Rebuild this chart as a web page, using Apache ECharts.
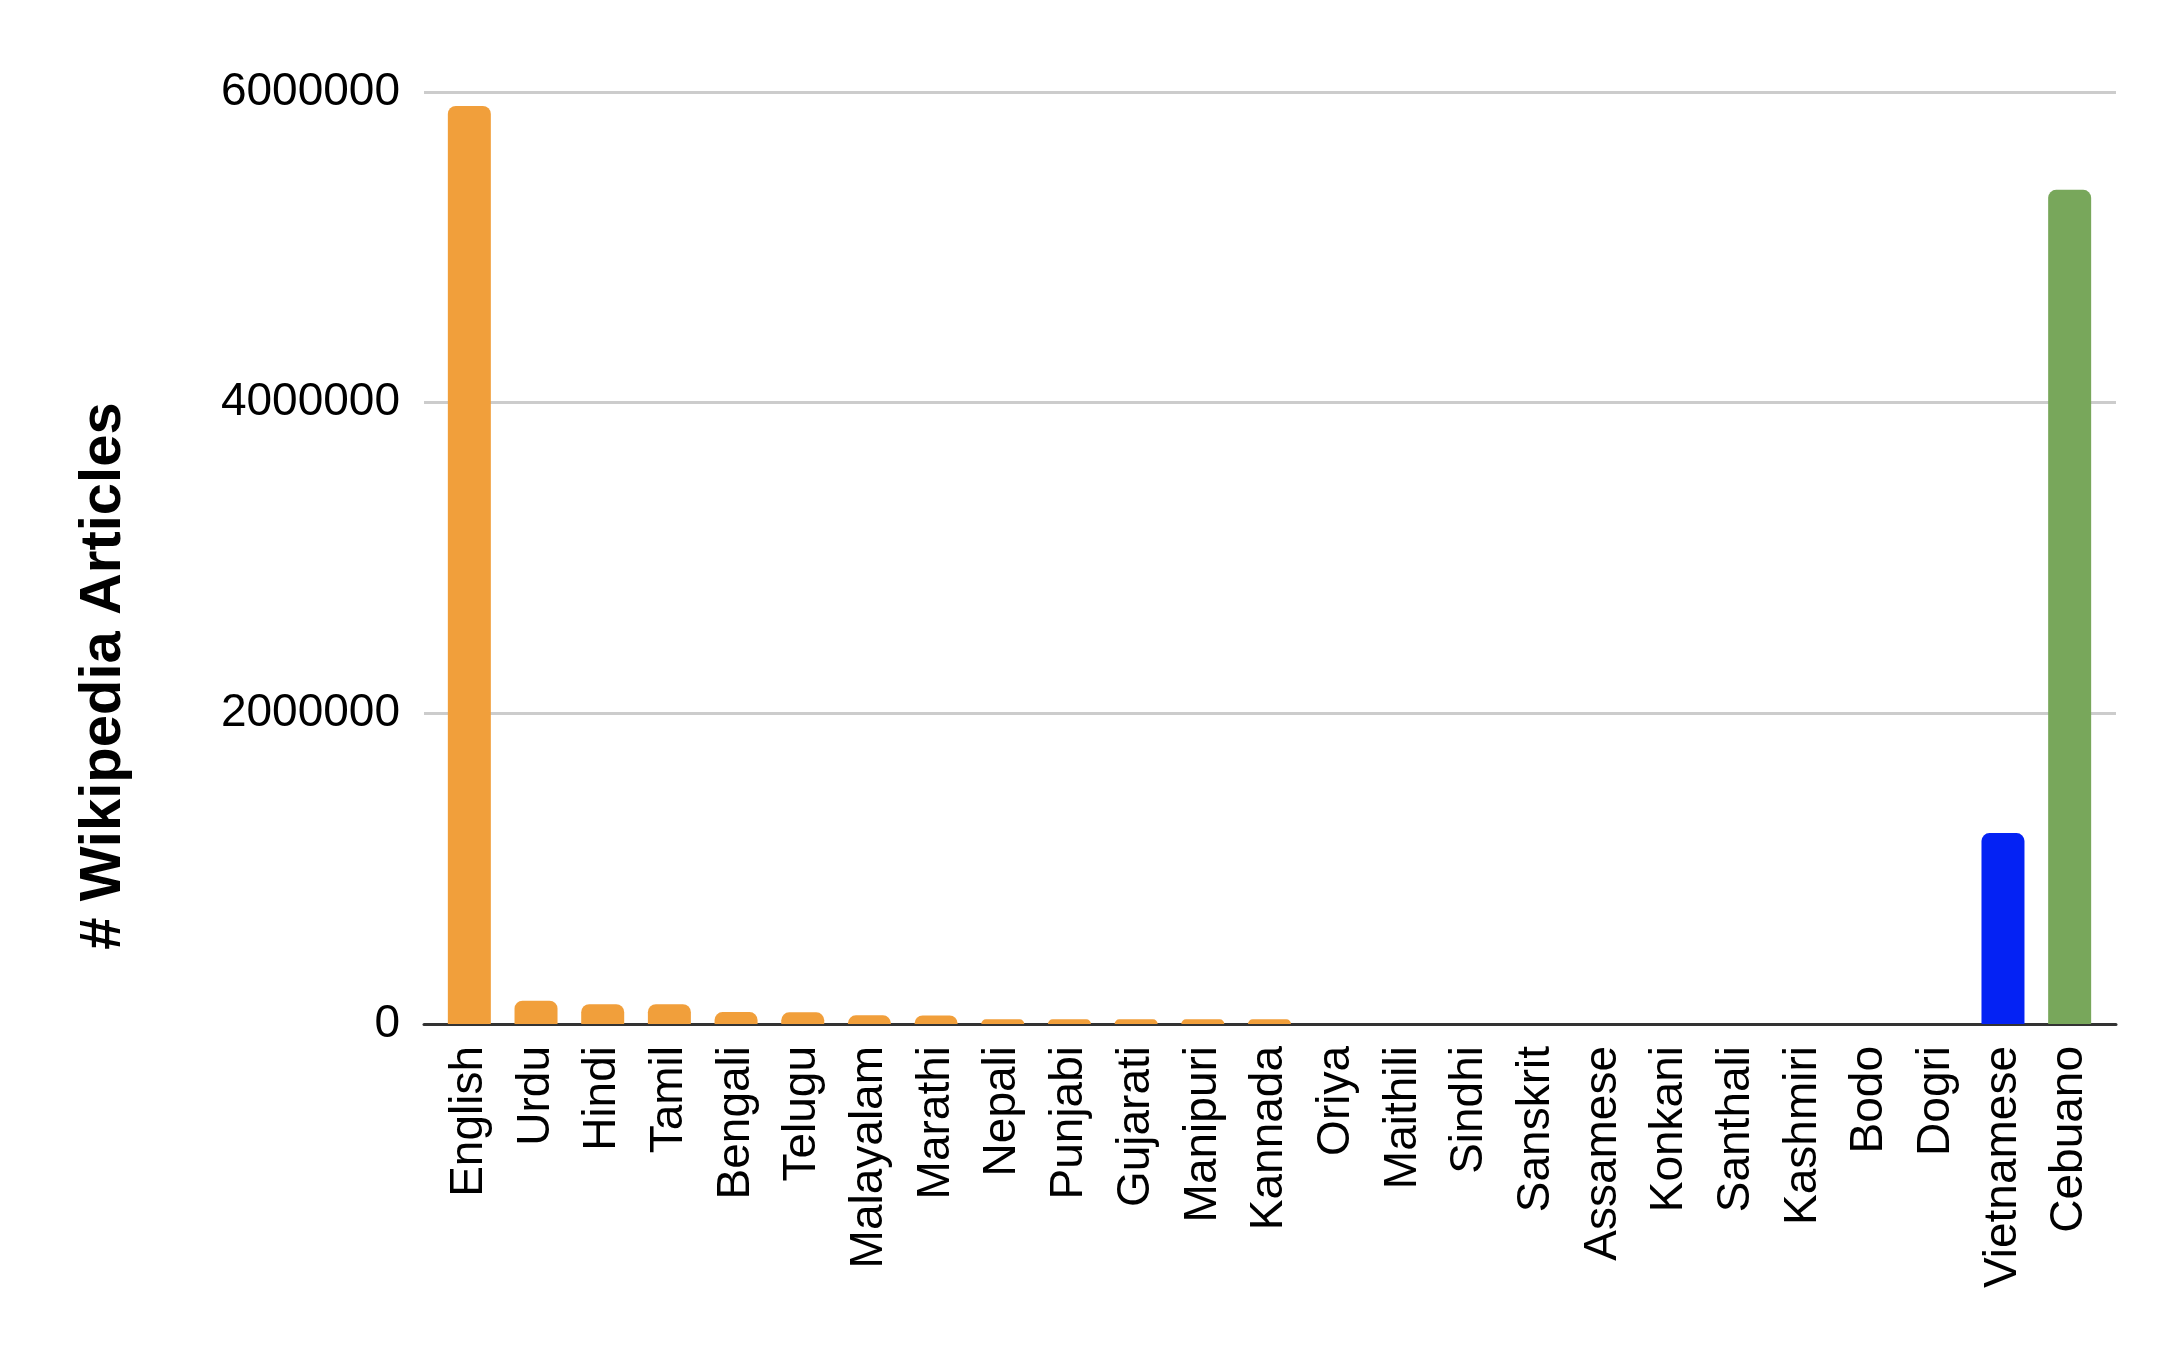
<!DOCTYPE html>
<html>
<head>
<meta charset="utf-8">
<script src="https://cdn.jsdelivr.net/npm/echarts@6/dist/echarts.min.js"></script>
<style>
  html, body { margin: 0; padding: 0; background: #fff; }
  #chart { width: 2183px; height: 1350px; }
</style>
</head>
<body>
<div id="chart"></div>
<script>
// languages, in plotted order
const languages = [
  'English', 'Urdu', 'Hindi', 'Tamil', 'Bengali', 'Telugu', 'Malayalam',
  'Marathi', 'Nepali', 'Punjabi', 'Gujarati', 'Manipuri', 'Kannada', 'Oriya',
  'Maithili', 'Sindhi', 'Sanskrit', 'Assamese', 'Konkani', 'Santhali',
  'Kashmiri', 'Bodo', 'Dogri', 'Vietnamese', 'Cebuano'
];
// # wikipedia articles
const articles = [
  5910000, 150000, 127000, 127000, 77000, 75000, 56000,
  55000, 30000, 30000, 30000, 30000, 30000, 0,
  0, 0, 0, 0, 0, 0,
  0, 0, 0, 1229000, 5370000
];
const yTicks = [0, 2000000, 4000000, 6000000];
const yTitle = '# Wikipedia Articles';

const FONT = '"Liberation Sans", Arial, sans-serif';
const ORANGE = '#f19f3b';
const barColors = {
  Vietnamese: '#0422f4',
  Cebuano: '#78a75b'
};

const yMax = yTicks[yTicks.length - 1];
const yStep = yTicks[1] - yTicks[0];

const chart = echarts.init(document.getElementById('chart'));

const option = {
  animation: false,
  backgroundColor: '#ffffff',
  textStyle: { fontFamily: FONT },
  grid: [
    // grid 0: gridlines, y labels, baseline
    { left: 424, right: 67, top: 92, bottom: 326 },
    // grid 1: bars, inset a little like the original
    { left: 436, right: 80, top: 92, bottom: 326 }
  ],
  // axis title sits lower than the plot middle in the original
  graphic: [{
    type: 'text',
    x: 104,
    y: 676,
    rotation: Math.PI / 2,
    style: {
      text: yTitle,
      fontSize: 58,
      fontWeight: 'bold',
      fontFamily: FONT,
      fill: '#000000',
      align: 'center',
      verticalAlign: 'middle'
    }
  }],
  xAxis: [{
    gridIndex: 0,
    type: 'value',
    min: 0,
    max: 1,
    axisLabel: { show: false },
    axisTick: { show: false },
    splitLine: { show: false },
    axisLine: { show: true, lineStyle: { color: '#333333', width: 3 } }
  }, {
    gridIndex: 1,
    type: 'category',
    data: languages,
    axisLine: { show: false },
    axisTick: { show: false },
    axisLabel: {
      interval: 0,
      rotate: 90,
      margin: 22,
      fontSize: 46,
      color: '#000000',
      fontFamily: FONT
    }
  }],
  yAxis: [{
    gridIndex: 0,
    type: 'value',
    min: 0,
    max: yMax,
    interval: yStep,
    axisLine: { show: false },
    axisTick: { show: false },
    axisLabel: {
      margin: 24,
      fontSize: 46,
      color: '#000000',
      fontFamily: FONT,
      formatter: function (v) { return String(v); }
    },
    splitLine: { lineStyle: { color: '#cccccc', width: 3 } }
  }, {
    gridIndex: 1,
    type: 'value',
    min: 0,
    max: yMax,
    show: false,
    splitLine: { show: false }
  }],
  series: [{
    type: 'bar',
    xAxisIndex: 1,
    yAxisIndex: 1,
    data: articles,
    barWidth: 43,
    itemStyle: {
      borderRadius: [8, 8, 0, 0],
      color: function (p) {
        return barColors[p.name] || ORANGE;
      }
    }
  }]
};

chart.setOption(option);
</script>
</body>
</html>
